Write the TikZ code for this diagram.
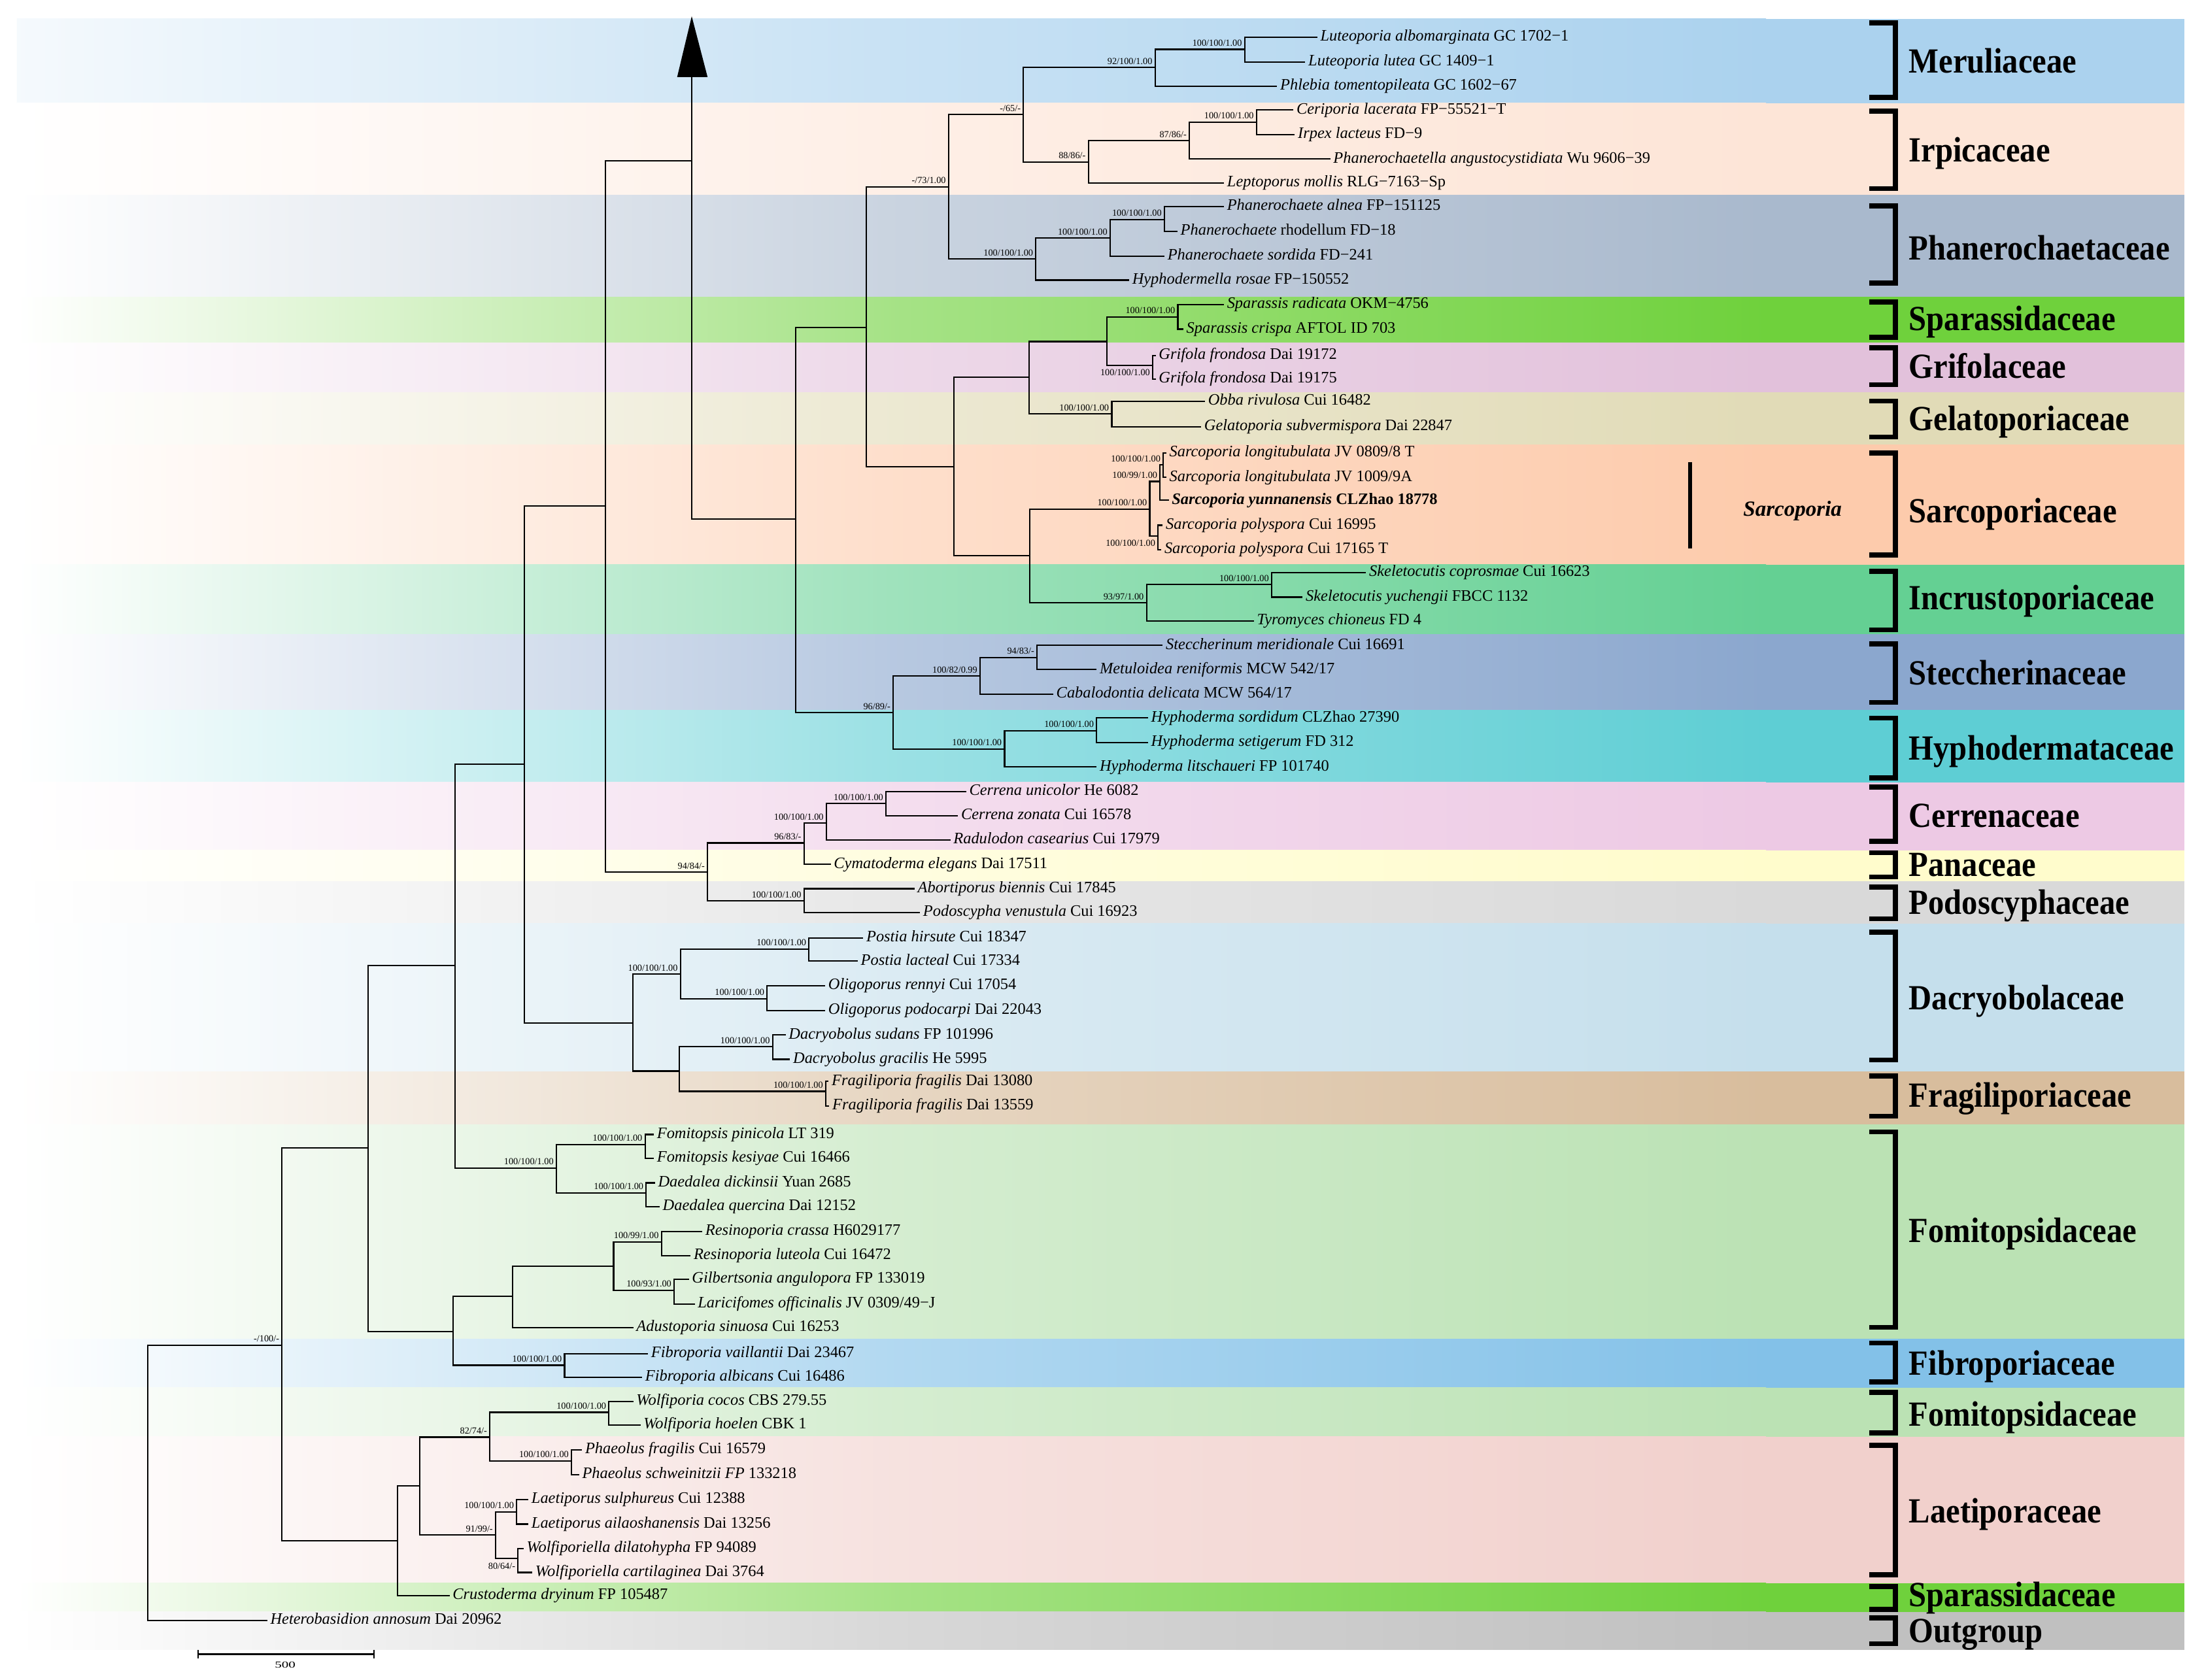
\documentclass[tikz,border=0pt]{standalone}
\usepackage{fontspec}
\usepackage{graphicx}
\setmainfont{Liberation Serif}
\definecolor{cMer}{RGB}{171,210,238}
\definecolor{cIrp}{RGB}{253,229,215}
\definecolor{cPha}{RGB}{169,185,205}
\definecolor{cSpa}{RGB}{111,209,60}
\definecolor{cGri}{RGB}{226,193,219}
\definecolor{cGel}{RGB}{225,219,183}
\definecolor{cSar}{RGB}{253,203,172}
\definecolor{cInc}{RGB}{100,208,147}
\definecolor{cSte}{RGB}{139,167,206}
\definecolor{cHyp}{RGB}{94,206,212}
\definecolor{cCer}{RGB}{237,201,228}
\definecolor{cPan}{RGB}{255,252,204}
\definecolor{cPod}{RGB}{217,217,217}
\definecolor{cDac}{RGB}{197,223,236}
\definecolor{cFra}{RGB}{216,189,157}
\definecolor{cFom}{RGB}{187,226,180}
\definecolor{cFib}{RGB}{131,193,232}
\definecolor{cLae}{RGB}{241,208,204}
\definecolor{cOut}{RGB}{192,192,192}
\newcommand{\band}[3]{%
  \fill[left color=white, right color=#3, middle color=#3!62] (12,#1) rectangle (1250,#2);
  \fill[#3] (1249.5,#1) rectangle (1546,#2);}
\newcommand{\brk}[2]{\draw[bk] (1323,#1) -- (1341.5,#1) -- (1341.5,#2) -- (1323,#2);}
\newcommand{\famlab}[3]{\node[fam] (#1) at (1351,#2) {\scalebox{0.9}[1]{#3}};}
\newcommand{\inode}[3]{\coordinate (#1) at (#2,#3);}
\newcommand{\leafnode}[4]{\node[tx] (#1) at (#2,#3) {#4};}
\newcommand{\kids}[3]{\draw[br] (#1) |- (#2) (#1) |- (#3);}
\newcommand{\suplab}[2]{\node[spu] (s#1) at ([shift={(-1.8,-2.3)}]#1) {#2};}
\newcommand{\sdnlab}[2]{\node[spd] (s#1) at ([shift={(-1.6,2.8)}]#1) {#2};}
\begin{document}
\begin{tikzpicture}[x=1pt,y=-1pt,
  br/.style={line width=1pt, line join=miter},
  tx/.style={anchor=west, inner xsep=2pt, inner ysep=0pt, font=\fontsize{11.3}{13}\selectfont, text height=7.8pt, text depth=2.5pt},
  sp/.style={inner sep=0pt, font=\fontsize{6.6}{7}\selectfont},
  spu/.style={sp, anchor=base east},
  spd/.style={sp, anchor=north east},
  fam/.style={anchor=west, inner sep=0pt, font=\fontsize{25}{26}\selectfont\bfseries, text height=16.5pt, text depth=0pt},
  bk/.style={line width=3.5pt, line join=miter}]
\useasboundingbox (0,0) rectangle (1560,1189.3);
\fill[white] (0,0) rectangle (1560,1189.3);
% ---------- bands ----------
\fill[left color=cMer!12, right color=cMer, middle color=cMer!65] (12,13.4) rectangle (1250,72.9);
\fill[cMer] (1249.5,13.4) rectangle (1546,72.9);
\band{72.9}{138.1}{cIrp}
\band{138.1}{210.3}{cPha}
\band{210.3}{242.5}{cSpa}
\band{242.5}{277.8}{cGri}
\band{277.8}{314.7}{cGel}
\band{314.7}{399.8}{cSar}
\band{399.8}{449}{cInc}
\band{449}{502.7}{cSte}
\band{502.7}{553.8}{cHyp}
\band{553.8}{602}{cCer}
\band{602}{624}{cPan}
\band{624}{653.7}{cPod}
\band{653.7}{758.5}{cDac}
\band{758.5}{796}{cFra}
\band{796}{947.8}{cFom}
\band{947.8}{982.4}{cFib}
\band{982.4}{1017}{cFom}
\band{1017}{1120.8}{cLae}
\band{1120.8}{1141}{cSpa}
\band{1141}{1167.8}{cOut}
% ---------- brackets and family names ----------
\brk{16.1}{69}
\brk{78.7}{133.5}
\brk{145.8}{200.3}
\brk{213.7}{238.7}
\brk{246.3}{272.4}
\brk{284}{309.3}
\brk{320.8}{392.9}
\brk{404.4}{445.9}
\brk{455.8}{497.3}
\brk{508.4}{550.6}
\brk{557.2}{595.5}
\brk{603.6}{620.7}
\brk{628}{650.5}
\brk{660}{750.3}
\brk{761.7}{790.2}
\brk{801.2}{939.7}
\brk{950.7}{978.4}
\brk{985.7}{1014.3}
\brk{1023.2}{1114.8}
\brk{1123}{1139.3}
\brk{1145.3}{1163.7}
\famlab{fMer}{43.4}{Meruliaceae}
\famlab{fIrp}{106.4}{Irpicaceae}
\famlab{fPha}{175.5}{Phanerochaetaceae}
\famlab{fSpa}{225.6}{Sparassidaceae}
\famlab{fGri}{259.6}{Grifolaceae}
\famlab{fGel}{296.5}{Gelatoporiaceae}
\famlab{fSar}{361.5}{Sarcoporiaceae}
\famlab{fInc}{423.5}{Incrustoporiaceae}
\famlab{fSte}{476.7}{Steccherinaceae}
\famlab{fHyp}{529.5}{Hyphodermataceae}
\famlab{fCer}{577.5}{Cerrenaceae}
\famlab{fPan}{612.2}{Panaceae}
\famlab{fPod}{639}{Podoscyphaceae}
\famlab{fDac}{706.5}{Dacryobolaceae}
\famlab{fFra}{775.6}{Fragiliporiaceae}
\famlab{fFom}{871}{Fomitopsidaceae}
\famlab{fFib}{965.4}{Fibroporiaceae}
\famlab{fFomB}{1001.2}{Fomitopsidaceae}
\famlab{fLae}{1069.6}{Laetiporaceae}
\famlab{fSpaB}{1129}{Sparassidaceae}
\famlab{fOut}{1154.6}{Outgroup}
% Sarcoporia genus bar
\coordinate (gb1) at (1196.2,327);
\coordinate (gb2) at (1196.2,388.4);
\draw[line width=3pt] (gb1) -- (gb2);
\node[anchor=west, inner sep=0pt, font=\fontsize{15.3}{16}\selectfont\bfseries\itshape, text height=10.1pt, text depth=0pt] (gSar) at (1233.7,360.3) {Sarcoporia};
% ---------- internal nodes ----------
\inode{root}{104.5}{1049.7}
\inode{nA}{199.6}{952.3}
\inode{nB}{260.7}{812.5}
\inode{nC}{321.9}{683.6}
\inode{nD}{371.1}{541}
\inode{nE}{428.5}{358}
\inode{nArr}{489.6}{114}
\inode{nF}{563.2}{367.6}
\inode{nG}{613.1}{231.8}
\inode{nI}{671.4}{132.3}
\inode{nK}{724.4}{81.0}
\inode{nMer}{817.6}{47.8}
\inode{nLut}{881.0}{34.9}
\inode{nIrp}{770.4}{114.6}
\inode{nIrpB}{841.8}{99.5}
\inode{nIrpC}{889.4}{86.4}
\inode{nPha}{733.2}{183.4}
\inode{nPhaB}{785.8}{168.6}
\inode{nPhaC}{824.2}{155.3}
\inode{nJ}{675.3}{330.5}
\inode{nSG}{728.2}{267.2}
\inode{nSpGr}{783.5}{241.8}
\inode{nSpa}{833.7}{224.4}
\inode{nGri}{815.7}{258.6}
\inode{nGel}{786.9}{293}
\inode{nSI}{729}{393.3}
\inode{nSar}{813.8}{360.3}
\inode{nSarB}{821.1}{340.8}
\inode{nSarC}{823.4}{329.2}
\inode{nSarD}{819.5}{379.3}
\inode{nInc}{811.5}{426.8}
\inode{nIncB}{900.1}{413.9}
\inode{nH}{632.2}{504.6}
\inode{nSte}{693.7}{478.5}
\inode{nSteB}{734}{465.4}
\inode{nHyp}{711}{530.2}
\inode{nHypB}{776.2}{517.2}
\inode{nCer}{500.8}{617.4}
\inode{nCerB}{569.1}{596.7}
\inode{nCerC}{584.9}{582.7}
\inode{nCerD}{627.1}{568.9}
\inode{nPod}{569.1}{637.7}
\inode{nDac}{447.9}{724.1}
\inode{nDacB}{481.6}{689.7}
\inode{nPos}{572.6}{671.8}
\inode{nOli}{543}{707}
\inode{nDacC}{480.9}{758.2}
\inode{nDcb}{546.9}{740.9}
\inode{nFra}{584.5}{772.6}
\inode{nFomi}{393.8}{826.9}
\inode{nFop}{456.6}{810.2}
\inode{nDae}{457.4}{844.4}
\inode{nFomB}{320.6}{942.6}
\inode{nResA}{362.8}{917.6}
\inode{nResB}{434.3}{896.2}
\inode{nRes}{468.2}{879.1}
\inode{nGil}{477.2}{913.4}
\inode{nFib}{399.6}{966.5}
\inode{nL}{281.4}{1090.6}
\inode{nLA}{297.1}{1052}
\inode{nLB}{346.7}{1017.4}
\inode{nWol}{431}{999.8}
\inode{nPhae}{404.5}{1034.1}
\inode{nLC}{350.8}{1086.7}
\inode{nLae}{365.7}{1070.3}
\inode{nWfa}{366.5}{1103.4}
% ---------- leaves ----------
\leafnode{L1}{932.4}{26.2}{\textit{Luteoporia albomarginata} GC 1702−1}
\leafnode{L2}{923.9}{44.0}{\textit{Luteoporia lutea} GC 1409−1}
\leafnode{L3}{904.0}{60.9}{\textit{Phlebia tomentopileata} GC 1602−67}
\leafnode{L4}{915.5}{77.9}{\textit{Ceriporia lacerata} FP−55521−T}
\leafnode{L5}{916.5}{95.2}{\textit{Irpex lacteus} FD−9}
\leafnode{L6}{941.6}{112.6}{\textit{Phanerochaetella angustocystidiata} Wu 9606−39}
\leafnode{L7}{866.4}{129.6}{\textit{Leptoporus mollis} RLG−7163−Sp}
\leafnode{L8}{866.3}{146.2}{\textit{Phanerochaete alnea} FP−151125}
\leafnode{L9}{833.4}{163.9}{\textit{Phanerochaete} rhodellum FD−18}
\leafnode{L10}{824.2}{181.4}{\textit{Phanerochaete sordida} FD−241}
\leafnode{L11}{799.2}{198.3}{\textit{Hyphodermella rosae} FP−150552}
\leafnode{L12}{866.3}{215.6}{\textit{Sparassis radicata} OKM−4756}
\leafnode{L13}{837.6}{233.0}{\textit{Sparassis crispa} AFTOL ID 703}
\leafnode{L14}{818.0}{251.7}{\textit{Grifola frondosa} Dai 19172}
\leafnode{L15}{818.0}{268.5}{\textit{Grifola frondosa} Dai 19175}
\leafnode{L16}{852.9}{284.2}{\textit{Obba rivulosa} Cui 16482}
\leafnode{L17}{850.2}{302.1}{\textit{Gelatoporia subvermispora} Dai 22847}
\leafnode{L18}{825.5}{320.6}{\textit{Sarcoporia longitubulata} JV 0809/8 T}
\leafnode{L19}{825.5}{338.0}{\textit{Sarcoporia longitubulata} JV 1009/9A}
\leafnode{L20}{827.2}{354.2}{\textbf{\textit{Sarcoporia yunnanensis} CLZhao 18778}}
\leafnode{L21}{823.0}{371.8}{\textit{Sarcoporia polyspora} Cui 16995}
\leafnode{L22}{822.0}{389.2}{\textit{Sarcoporia polyspora} Cui 17165 T}
\leafnode{L23}{966.9}{405.2}{\textit{Skeletocutis coprosmae} Cui 16623}
\leafnode{L24}{922.0}{422.7}{\textit{Skeletocutis yuchengii} FBCC 1132}
\leafnode{L25}{887.5}{439.6}{\textit{Tyromyces chioneus} FD 4}
\leafnode{L26}{823.0}{456.9}{\textit{Steccherinum meridionale} Cui 16691}
\leafnode{L27}{776.2}{474.0}{\textit{Metuloidea reniformis} MCW 542/17}
\leafnode{L28}{745.5}{491.3}{\textit{Cabalodontia delicata} MCW 564/17}
\leafnode{L29}{812.6}{508.3}{\textit{Hyphoderma sordidum} CLZhao 27390}
\leafnode{L30}{812.6}{525.7}{\textit{Hyphoderma setigerum} FD 312}
\leafnode{L31}{776.2}{543.0}{\textit{Hyphoderma litschaueri} FP 101740}
\leafnode{L32}{683.9}{560.3}{\textit{Cerrena unicolor} He 6082}
\leafnode{L33}{678.1}{577.5}{\textit{Cerrena zonata} Cui 16578}
\leafnode{L34}{672.7}{594.7}{\textit{Radulodon casearius} Cui 17979}
\leafnode{L35}{588.0}{611.9}{\textit{Cymatoderma elegans} Dai 17511}
\leafnode{L36}{647.4}{629.1}{\textit{Abortiporus biennis} Cui 17845}
\leafnode{L37}{651.2}{646.0}{\textit{Podoscypha venustula} Cui 16923}
\leafnode{L38}{611.0}{664.0}{\textit{Postia hirsute} Cui 18347}
\leafnode{L39}{607.1}{680.4}{\textit{Postia lacteal} Cui 17334}
\leafnode{L40}{584.1}{697.9}{\textit{Oligoporus rennyi} Cui 17054}
\leafnode{L41}{584.1}{715.5}{\textit{Oligoporus podocarpi} Dai 22043}
\leafnode{L42}{556.1}{732.7}{\textit{Dacryobolus sudans} FP 101996}
\leafnode{L43}{559.2}{749.9}{\textit{Dacryobolus gracilis} He 5995}
\leafnode{L44}{586.5}{765.6}{\textit{Fragiliporia fragilis} Dai 13080}
\leafnode{L45}{587.0}{782.8}{\textit{Fragiliporia fragilis} Dai 13559}
\leafnode{L46}{462.8}{803.1}{\textit{Fomitopsis pinicola} LT 319}
\leafnode{L47}{462.8}{819.9}{\textit{Fomitopsis kesiyae} Cui 16466}
\leafnode{L48}{463.6}{837.4}{\textit{Daedalea dickinsii} Yuan 2685}
\leafnode{L49}{466.9}{854.2}{\textit{Daedalea quercina} Dai 12152}
\leafnode{L50}{497.1}{871.7}{\textit{Resinoporia crassa} H6029177}
\leafnode{L51}{488.8}{888.8}{\textit{Resinoporia luteola} Cui 16472}
\leafnode{L52}{487.6}{905.6}{\textit{Gilbertsonia angulopora} FP 133019}
\leafnode{L53}{491.7}{923.1}{\textit{Laricifomes officinalis} JV 0309/49−J}
\leafnode{L54}{448.3}{939.9}{\textit{Adustoporia sinuosa} Cui 16253}
\leafnode{L55}{458.7}{958.2}{\textit{Fibroporia vaillantii} Dai 23467}
\leafnode{L56}{454.5}{974.9}{\textit{Fibroporia albicans} Cui 16486}
\leafnode{L57}{448.3}{992.1}{\textit{Wolfiporia cocos} CBS 279.55}
\leafnode{L58}{453.3}{1008.8}{\textit{Wolfiporia hoelen} CBK 1}
\leafnode{L59}{412.0}{1026.3}{\textit{Phaeolus fragilis} Cui 16579}
\leafnode{L60}{409.9}{1043.9}{\textit{Phaeolus schweinitzii FP} 133218}
\leafnode{L61}{374.0}{1061.4}{\textit{Laetiporus sulphureus} Cui 12388}
\leafnode{L62}{374.0}{1078.9}{\textit{Laetiporus ailaoshanensis} Dai 13256}
\leafnode{L63}{370.6}{1096.4}{\textit{Wolfiporiella dilatohypha} FP 94089}
\leafnode{L64}{376.8}{1113.2}{\textit{Wolfiporiella cartilaginea} Dai 3764}
\leafnode{L65}{318.2}{1129.6}{\textit{Crustoderma dryinum} FP 105487}
\leafnode{L66}{189.2}{1147.1}{\textit{Heterobasidion annosum} Dai 20962}
% ---------- branches ----------
\kids{root}{nA}{L66.west}
\kids{nA}{nB}{nL}
\kids{nB}{nC}{nFomB}
\kids{nC}{nD}{nFomi}
\kids{nD}{nE}{nDac}
\kids{nE}{nArr}{nCer}
\draw[br] (nArr) |- (nF);
\kids{nF}{nG}{nH}
\kids{nG}{nI}{nJ}
\kids{nI}{nK}{nPha}
\kids{nK}{nMer}{nIrp}
\kids{nMer}{nLut}{L3.west}
\kids{nLut}{L1.west}{L2.west}
\kids{nIrp}{nIrpB}{L7.west}
\kids{nIrpB}{nIrpC}{L6.west}
\kids{nIrpC}{L4.west}{L5.west}
\kids{nPha}{nPhaB}{L11.west}
\kids{nPhaB}{nPhaC}{L10.west}
\kids{nPhaC}{L8.west}{L9.west}
\kids{nJ}{nSG}{nSI}
\kids{nSG}{nSpGr}{nGel}
\kids{nSpGr}{nSpa}{nGri}
\kids{nSpa}{L12.west}{L13.west}
\kids{nGri}{L14.west}{L15.west}
\kids{nGel}{L16.west}{L17.west}
\kids{nSI}{nSar}{nInc}
\kids{nSar}{nSarB}{nSarD}
\kids{nSarB}{nSarC}{L20.west}
\kids{nSarC}{L18.west}{L19.west}
\kids{nSarD}{L21.west}{L22.west}
\kids{nInc}{nIncB}{L25.west}
\kids{nIncB}{L23.west}{L24.west}
\kids{nH}{nSte}{nHyp}
\kids{nSte}{nSteB}{L28.west}
\kids{nSteB}{L26.west}{L27.west}
\kids{nHyp}{nHypB}{L31.west}
\kids{nHypB}{L29.west}{L30.west}
\kids{nCer}{nCerB}{nPod}
\kids{nCerB}{nCerC}{L35.west}
\kids{nCerC}{nCerD}{L34.west}
\kids{nCerD}{L32.west}{L33.west}
\kids{nPod}{L36.west}{L37.west}
\kids{nDac}{nDacB}{nDacC}
\kids{nDacB}{nPos}{nOli}
\kids{nPos}{L38.west}{L39.west}
\kids{nOli}{L40.west}{L41.west}
\kids{nDacC}{nDcb}{nFra}
\kids{nDcb}{L42.west}{L43.west}
\kids{nFra}{L44.west}{L45.west}
\kids{nFomi}{nFop}{nDae}
\kids{nFop}{L46.west}{L47.west}
\kids{nDae}{L48.west}{L49.west}
\kids{nFomB}{nResA}{nFib}
\kids{nResA}{nResB}{L54.west}
\kids{nResB}{nRes}{nGil}
\kids{nRes}{L50.west}{L51.west}
\kids{nGil}{L52.west}{L53.west}
\kids{nFib}{L55.west}{L56.west}
\kids{nL}{nLA}{L65.west}
\kids{nLA}{nLB}{nLC}
\kids{nLB}{nWol}{nPhae}
\kids{nWol}{L57.west}{L58.west}
\kids{nPhae}{L59.west}{L60.west}
\kids{nLC}{nLae}{nWfa}
\kids{nLae}{L61.west}{L62.west}
\kids{nWfa}{L63.west}{L64.west}
% arrow
\coordinate (aTip) at (489.6,11.5);
\coordinate (aL) at (479.3,54.5);
\coordinate (aR) at (500.8,54.5);
\coordinate (aBase) at (489.6,54.5);
\draw[br] (aBase) -- (nArr);
\fill (aTip) -- (aL) -- (aR) -- cycle;
% ---------- support values ----------
\suplab{nLut}{100/100/1.00}
\suplab{nMer}{92/100/1.00}
\suplab{nK}{-/65/-}
\suplab{nIrpC}{100/100/1.00}
\suplab{nIrpB}{87/86/-}
\suplab{nIrp}{88/86/-}
\suplab{nI}{-/73/1.00}
\suplab{nPhaC}{100/100/1.00}
\suplab{nPhaB}{100/100/1.00}
\suplab{nPha}{100/100/1.00}
\suplab{nSpa}{100/100/1.00}
\sdnlab{nGri}{100/100/1.00}
\suplab{nGel}{100/100/1.00}
\suplab{nSarC}{100/100/1.00}
\suplab{nSarB}{100/99/1.00}
\sdnlab{nSarD}{100/100/1.00}
\suplab{nSar}{100/100/1.00}
\suplab{nIncB}{100/100/1.00}
\suplab{nInc}{93/97/1.00}
\suplab{nSteB}{94/83/-}
\suplab{nSte}{100/82/0.99}
\suplab{nHypB}{100/100/1.00}
\suplab{nHyp}{100/100/1.00}
\suplab{nH}{96/89/-}
\suplab{nCerD}{100/100/1.00}
\suplab{nCerC}{100/100/1.00}
\suplab{nCerB}{96/83/-}
\suplab{nPod}{100/100/1.00}
\suplab{nCer}{94/84/-}
\suplab{nPos}{100/100/1.00}
\suplab{nOli}{100/100/1.00}
\suplab{nDacB}{100/100/1.00}
\suplab{nDcb}{100/100/1.00}
\suplab{nFra}{100/100/1.00}
\suplab{nFomi}{100/100/1.00}
\suplab{nFop}{100/100/1.00}
\suplab{nDae}{100/100/1.00}
\suplab{nRes}{100/99/1.00}
\suplab{nGil}{100/93/1.00}
\suplab{nFib}{100/100/1.00}
\suplab{nWol}{100/100/1.00}
\suplab{nPhae}{100/100/1.00}
\suplab{nLB}{82/74/-}
\suplab{nLae}{100/100/1.00}
\suplab{nLC}{91/99/-}
\sdnlab{nWfa}{80/64/-}
\suplab{nA}{-/100/-}
% ---------- scale bar ----------
\coordinate (sb1) at (140.1,1171.2);
\coordinate (sb2) at (264.6,1171.2);
\draw[line width=1.3pt] (sb1) -- (sb2);
\draw[line width=1pt] ([shift={(0,-3)}]sb1) -- ([shift={(0,3)}]sb1);
\draw[line width=1pt] ([shift={(0,-3)}]sb2) -- ([shift={(0,3)}]sb2);
\node[inner sep=0pt, font=\fontsize{6.5}{7}\selectfont] (sbl) at (201.8,1178.5) {\scalebox{1.5}[1]{500}};
\end{tikzpicture}
\end{document}
